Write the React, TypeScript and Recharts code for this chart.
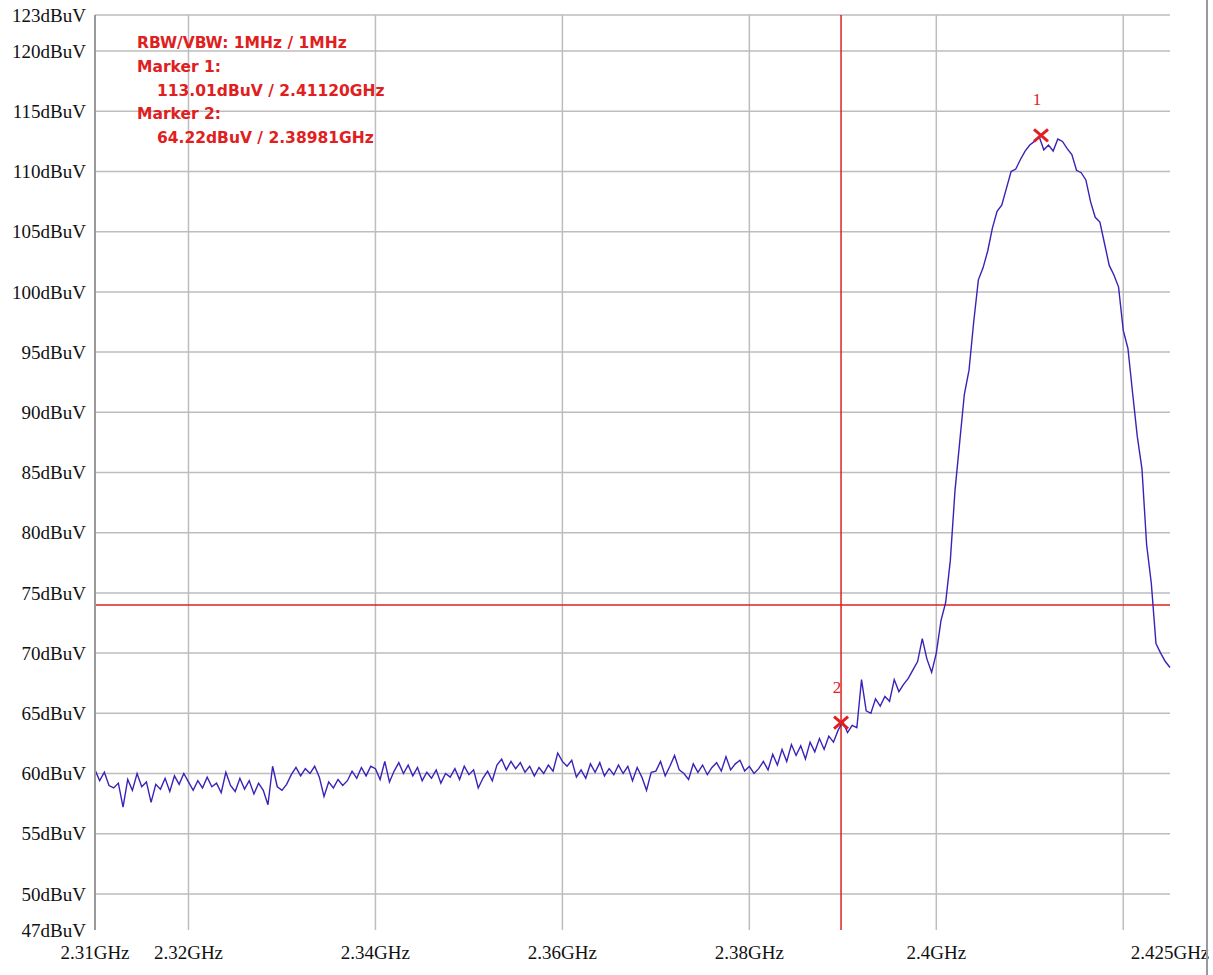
import React from 'react';
import {
  LineChart, Line, XAxis, YAxis, CartesianGrid, ReferenceLine, ReferenceDot,
} from 'recharts';

// sweep settings
const startGHz = 2.31;
const stepGHz = 0.0005;

// trace values in dBuV
const floorA = [
  60.3, 59.4, 60.1, 59.0, 58.8, 59.2, 57.2, 59.5, 58.6, 60.0,
  58.9, 59.3, 57.6, 59.1, 58.7, 59.6, 58.5, 59.8, 59.1, 60.0,
  59.3, 58.6, 59.4, 58.8, 59.7, 58.9, 59.2, 58.4, 60.1, 59.0,
  58.5, 59.6, 58.7, 59.4, 58.3, 59.2, 58.6, 57.4, 60.6, 58.9,
  58.6, 59.1, 59.9, 60.5, 59.8, 60.4, 60.0, 60.6, 59.7, 58.1,
  59.3, 58.8, 59.5, 59.0, 59.4, 60.2, 59.6, 60.5, 59.8, 60.6,
];
const floorB = [
  60.4, 59.5, 61.0, 59.3, 60.2, 60.9, 60.0, 60.7, 59.8, 60.5,
  59.4, 60.1, 59.6, 60.3, 59.2, 60.0, 59.7, 60.4, 59.5, 60.6,
  59.9, 60.3, 58.8, 59.6, 60.2, 59.4, 60.7, 61.2, 60.3, 61.0,
  60.4, 60.9, 60.1, 60.6, 59.8, 60.5, 60.0, 60.7, 60.2, 61.7,
  61.0, 60.6, 61.1, 59.7, 60.3, 59.6, 60.8, 60.1, 60.9, 59.8,
  60.4, 59.9, 60.7, 60.0, 60.6, 59.4, 60.5, 59.7, 58.6, 60.1,
];
const rise = [
  60.2, 61.0, 59.8, 60.6, 61.5, 60.3, 60.0, 59.5, 60.8, 60.1,
  60.7, 59.9, 60.5, 60.9, 60.2, 61.4, 60.3, 60.8, 61.1, 60.2,
  60.6, 60.0, 60.4, 61.0, 60.3, 61.6, 60.7, 62.0, 61.0, 62.4,
  61.5, 62.3, 61.2, 62.6, 61.8, 62.9, 62.0, 63.1, 62.6, 63.6,
  64.3, 63.4, 64.0, 63.8, 67.8, 65.2, 65.0, 66.2, 65.6, 66.4,
  66.0, 67.8, 66.8, 67.4, 67.9, 68.6, 69.3, 71.2, 69.5, 68.4,
];
const lobe = [
  70.0, 72.7, 74.2, 77.7, 83.5, 87.5, 91.5, 93.5, 97.5, 101.0,
  102.0, 103.4, 105.3, 106.7, 107.2, 108.6, 110.0, 110.2, 111.0, 111.7,
  112.2, 112.5, 112.9, 111.8, 112.2, 111.7, 112.7, 112.5, 111.9, 111.4,
  110.1, 109.9, 109.3, 107.5, 106.2, 105.8, 104.0, 102.2, 101.4, 100.4,
  96.8, 95.3, 91.6, 88.0, 85.3, 79.0, 75.8, 70.8, 70.0, 69.3, 68.8,
];

const xTicks = [2.31, 2.32, 2.34, 2.36, 2.38, 2.4, 2.425];
const xGrid = [2.32, 2.34, 2.36, 2.38, 2.4, 2.42];
const yTicks = [47, 50, 55, 60, 65, 70, 75, 80, 85, 90, 95, 100, 105, 110, 115, 120, 123];
const yGrid = [50, 55, 60, 65, 70, 75, 80, 85, 90, 95, 100, 105, 110, 115, 120, 123];

const limitLine = 74;
const markers = [
  { id: '1', freq: 2.4112, level: 113.01 },
  { id: '2', freq: 2.38981, level: 64.22 },
];
const infoLines = [
  'RBW/VBW: 1MHz / 1MHz',
  'Marker 1:',
  '113.01dBuV / 2.41120GHz',
  'Marker 2:',
  '64.22dBuV / 2.38981GHz',
];

const trace = [...floorA, ...floorB, ...rise, ...lobe].map((v, i) => ({
  f: +(startGHz + i * stepGHz).toFixed(5),
  v,
}));

const RED = '#e02020';
const tickFont = { fontFamily: '"Liberation Serif", serif', fontSize: 19, fill: '#111' };

function MarkerX(props: any) {
  const { cx, cy, label } = props;
  return (
    <g>
      <line x1={cx - 7} y1={cy - 6} x2={cx + 7} y2={cy + 6} stroke={RED} strokeWidth={3} />
      <line x1={cx - 7} y1={cy + 6} x2={cx + 7} y2={cy - 6} stroke={RED} strokeWidth={3} />
      <text x={cx - 4} y={cy - 30} textAnchor="middle" fill={RED}
        style={{ fontFamily: '"Liberation Serif", serif', fontSize: 17 }}>
        {label}
      </text>
    </g>
  );
}

export default function App() {
  return (
    <div style={{ position: 'absolute', left: 0, top: 0, width: 1213, height: 975, background: '#fff' }}>
      <LineChart width={1213} height={975} data={trace}
        margin={{ top: 15, right: 43, bottom: 0, left: 0 }}>
        <CartesianGrid stroke="#bdbdbd" strokeWidth={1.5}
          horizontalValues={yGrid} verticalValues={xGrid} />
        <XAxis dataKey="f" type="number" domain={[2.31, 2.425]} ticks={xTicks}
          tickFormatter={(v: number) => `${v}GHz`} interval={0}
          axisLine={false} tickLine={false} tickSize={0} tickMargin={16}
          height={45} tick={tickFont} />
        <YAxis type="number" domain={[47, 123]} ticks={yTicks} interval={0}
          tickFormatter={(v: number) => `${v}dBuV`}
          axisLine={{ stroke: '#999', strokeWidth: 2 }} tickLine={false} tickSize={0} tickMargin={9}
          width={95} tick={tickFont} />
        <ReferenceLine y={limitLine} stroke={RED} strokeWidth={1.5} />
        <ReferenceLine x={markers[1].freq} stroke={RED} strokeWidth={1.5} />
        <Line type="linear" dataKey="v" stroke="#3a22b8" strokeWidth={1.4}
          dot={false} isAnimationActive={false} />
        {markers.map((m) => (
          <ReferenceDot key={m.id} x={m.freq} y={m.level}
            shape={(p: any) => <MarkerX {...p} label={m.id} />} />
        ))}
      </LineChart>
      <div style={{
        position: 'absolute', left: 137, top: 32, color: RED,
        fontFamily: '"DejaVu Sans", sans-serif', fontWeight: 'bold', fontSize: 15.5, lineHeight: '23.75px',
      }}>
        {infoLines.map((t, i) => (
          <div key={i} style={{ paddingLeft: i === 2 || i === 4 ? 20 : 0 }}>{t}</div>
        ))}
      </div>
      <div style={{ position: 'absolute', left: 1206, top: 0, width: 2, height: 975, background: '#999' }} />
    </div>
  );
}
